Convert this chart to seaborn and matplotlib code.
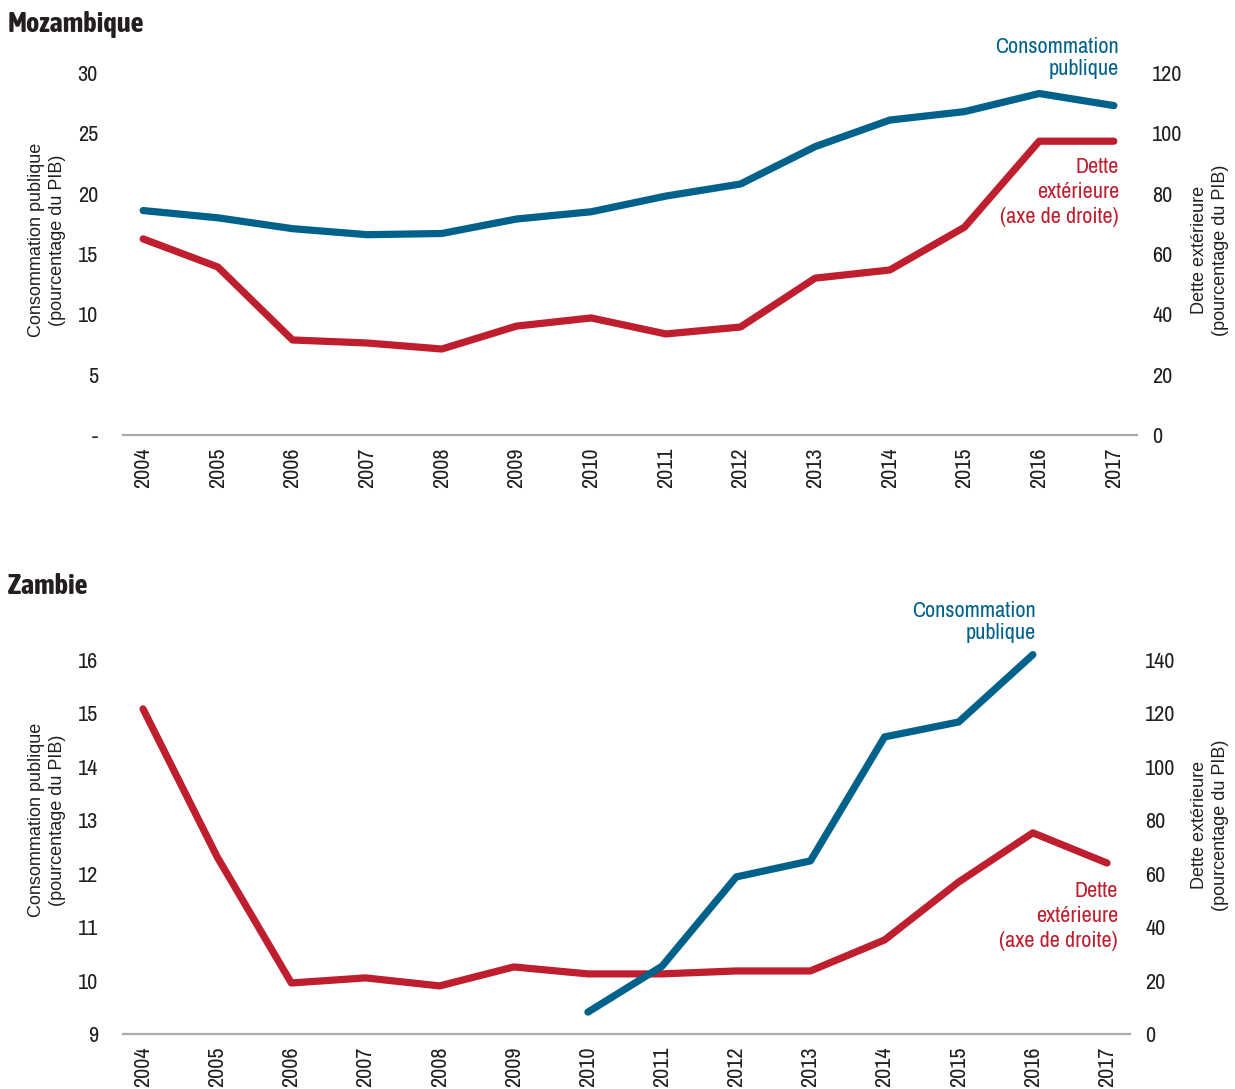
import pandas as pd
import seaborn as sns
from matplotlib import pyplot as plt
from matplotlib import font_manager

years = list(range(2004, 2018))

# Mozambique
moz_conso = [18.6, 18.0, 17.1, 16.6, 16.7, 17.9, 18.5, 19.8, 20.8, 23.9, 26.1, 26.8, 28.3, 27.3]
moz_dette = [65.0, 55.7, 31.5, 30.5, 28.5, 36.1, 38.8, 33.5, 35.8, 52.0, 54.7, 68.9, 97.4, 97.4]

# Zambie (consumption only from 2010)
zmb_conso = [None] * 6 + [9.41, 10.27, 11.94, 12.24, 14.56, 14.84, 16.1, None]
zmb_dette = [121.7, 66.3, 19.1, 21.0, 18.0, 25.1, 22.5, 22.5, 23.6, 23.6, 35.2, 56.9, 75.3, 64.0]

BLUE = "#00628B"
RED = "#BE1E2D"
GREY = "#A7A9AC"
TXT = "#231F20"

sns.set_style("white")

# look for narrow / condensed faces among the installed fonts
narrow_faces = [f for f in font_manager.fontManager.ttflist
                if "narrow" in f.name.lower() or "condensed" in f.name.lower()]
narrow = narrow_faces[0].name if narrow_faces else None


def weight_num(w):
    if isinstance(w, int):
        return w
    return font_manager.weight_dict.get(str(w), 400)


bold_faces = [f for f in narrow_faces if weight_num(f.weight) >= 600
              and "italic" not in f.style]
bold_faces.sort(key=lambda f: abs(weight_num(f.weight) - 700))
title_font = bold_faces[0].fname if bold_faces else None

fam = ([narrow] if narrow else []) + ["Liberation Sans", "DejaVu Sans"]
plt.rcParams["font.family"] = fam

W, H = 1235, 1089
fig = plt.figure(figsize=(W / 100, H / 100), dpi=100)


def fx(px):
    return px / W


def fy(py):
    return 1 - py / H


def title(x, y, s):
    if title_font:
        fp = font_manager.FontProperties(fname=title_font, size=20.5)
        fig.text(fx(x), fy(y), s, fontproperties=fp, color=TXT, va="center")
    else:
        fig.text(fx(x), fy(y), s, fontsize=19, fontweight="bold", color=TXT, va="center")


def draw_panel(top_px, bottom_px, right_px, conso, dette, left_lim, left_ticks, left_labels,
               right_lim, right_ticks):
    ax = fig.add_axes([fx(123), fy(bottom_px), fx(right_px) - fx(123), fy(top_px) - fy(bottom_px)])
    ax2 = ax.twinx()
    df = pd.DataFrame({"year": years, "conso": conso, "dette": dette})
    d1 = df.dropna(subset=["conso"])
    sns.lineplot(data=d1, x="year", y="conso", ax=ax, color=BLUE, linewidth=5.2)
    sns.lineplot(data=df, x="year", y="dette", ax=ax2, color=RED, linewidth=5.2)
    for a in (ax, ax2):
        for ln in a.get_lines():
            ln.set_solid_capstyle("round")
            ln.set_solid_joinstyle("round")
            ln.set_clip_on(False)
        for s in a.spines.values():
            s.set_visible(False)
        a.set_xlim(2003.73, 2017.31)
        a.set_xlabel("")
        a.set_ylabel("")
        a.tick_params(length=0, labelsize=16, colors=TXT)
    ax.spines["bottom"].set_visible(True)
    ax.spines["bottom"].set_color(GREY)
    ax.spines["bottom"].set_linewidth(1.6)
    ax.set_ylim(*left_lim)
    ax.set_yticks(left_ticks)
    ax.set_yticklabels(left_labels)
    ax.tick_params(axis="y", pad=18)
    ax2.set_ylim(*right_lim)
    ax2.set_yticks(right_ticks)
    ax2.tick_params(axis="y", pad=11)
    ax.set_xticks(years)
    ax.set_xticklabels([str(y) for y in years], rotation=90)
    ax.tick_params(axis="x", pad=9)
    ax.set_zorder(ax2.get_zorder() + 1)
    ax.patch.set_alpha(0)
    return ax, ax2


# Mozambique panel
draw_panel(73, 435, 1137, moz_conso, moz_dette, (0, 30), [0, 5, 10, 15, 20, 25, 30],
           ["-", "5", "10", "15", "20", "25", "30"], (0, 120), [0, 20, 40, 60, 80, 100, 120])
title(8, 25, "Mozambique")
fig.text(fx(1119), fy(58), "Consommation\npublique", fontsize=16, color=BLUE,
         ha="right", va="center", linespacing=1.1)
fig.text(fx(1119), fy(192), "Dette\nextérieure\n(axe de droite)", fontsize=16, color=RED,
         ha="right", va="center", linespacing=1.3)

# Zambie panel
draw_panel(660, 1034, 1130, zmb_conso, zmb_dette, (9, 16), list(range(9, 17)),
           [str(v) for v in range(9, 17)], (0, 140), list(range(0, 141, 20)))
title(8, 586, "Zambie")
fig.text(fx(1036), fy(622), "Consommation\npublique", fontsize=16, color=BLUE,
         ha="right", va="center", linespacing=1.1)
fig.text(fx(1118), fy(916), "Dette\nextérieure\n(axe de droite)", fontsize=16, color=RED,
         ha="right", va="center", linespacing=1.3)

# axis titles (regular width font)
for yc in (240, 820):
    fig.text(fx(47), fy(yc), "Consommation publique\n(pourcentage du PIB)", rotation=90,
             family=["Liberation Sans", "DejaVu Sans"], fontsize=13,
             color=TXT, ha="center", va="center", linespacing=1.3)
for yc in (250, 825):
    fig.text(fx(1210), fy(yc), "Dette extérieure\n(pourcentage du PIB)", rotation=90,
             family=["Liberation Sans", "DejaVu Sans"], fontsize=13,
             color=TXT, ha="center", va="center", linespacing=1.3)

fig.savefig("out.png", dpi=100)
